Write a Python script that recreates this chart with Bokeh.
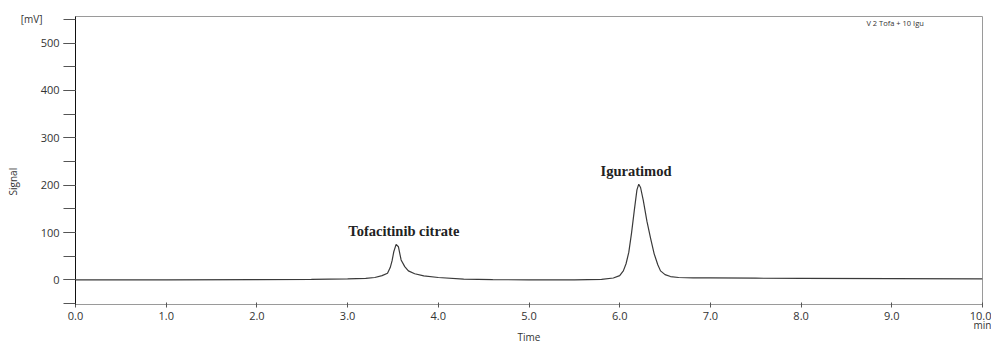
import math
from bokeh.plotting import figure
from bokeh.models import (Range1d, SingleIntervalTicker, FixedTicker, NumeralTickFormatter,
                          Label, LinearAxis, Title)
from bokeh.embed import file_html
from bokeh.resources import INLINE

# chromatogram: time (min) and signal (mV)
time_min = [0.0, 1.0, 2.0, 2.6, 3.0, 3.2, 3.3, 3.38, 3.44, 3.47, 3.49, 3.51, 3.535,
            3.56, 3.59, 3.63, 3.67, 3.74, 3.84, 4.0, 4.28, 4.6, 5.0, 5.5, 5.8, 5.93,
            6.0, 6.04, 6.07, 6.10, 6.13, 6.16, 6.19, 6.21, 6.23, 6.26, 6.30, 6.34,
            6.38, 6.42, 6.45, 6.50, 6.56, 6.65, 6.81, 7.0, 7.5, 8.0, 9.0, 10.0]
signal_mv = [0, 0, 0.5, 1, 2, 3, 5, 9, 14, 26, 40, 60, 75,
             70, 42, 28, 19, 13, 8.5, 5, 1.5, 0.5, 0, 0, 1, 4,
             9, 19, 34, 58, 98, 145, 190, 202, 195, 168, 124, 88,
             55, 32, 19, 11, 7, 5, 4, 4, 3.5, 3, 2.5, 2]

peak_names = ["Tofacitinib citrate", "Iguratimod"]
peak_label_x = [3.62, 6.18]
peak_label_y = [104, 229]

unit_tick = [550]
unit_label = {550: "[mV]"}
min_tick = [10]
min_label = {10: "min"}

FONT = "Open Sans"
TXT = "#333333"

p = figure(frame_width=907, frame_height=288, output_backend="svg", toolbar_location=None,
           x_range=Range1d(0, 10), y_range=Range1d(-52, 556),
           x_axis_location=None, y_axis_location=None,
           min_border_left=75, min_border_top=16, min_border_right=9, min_border_bottom=39)
p.grid.visible = False
p.outline_line_color = "#9a9a9a"
p.outline_line_width = 1

p.line(time_min, signal_mv, line_color="#3a3a3a", line_width=1.2)

# main x axis
xa = LinearAxis(ticker=SingleIntervalTicker(interval=1, num_minor_ticks=0),
                formatter=NumeralTickFormatter(format="0.0"))
xa.axis_line_color = "#9a9a9a"
xa.major_tick_line_color = "#555555"
xa.major_tick_in = 2
xa.major_tick_out = 3
xa.minor_tick_line_color = None
xa.major_label_standoff = 4
xa.major_label_text_font = FONT
xa.major_label_text_font_size = "11px"
xa.major_label_text_color = TXT
p.add_layout(xa, "below")

# second x axis carrying "min" and the "Time" title
xb = LinearAxis(ticker=FixedTicker(ticks=min_tick), major_label_overrides=min_label)
xb.axis_line_color = None
xb.major_tick_line_color = None
xb.minor_tick_line_color = None
xb.major_tick_out = 0
xb.major_tick_in = 0
xb.major_label_standoff = -5
xb.major_label_text_font = FONT
xb.major_label_text_font_size = "10px"
xb.major_label_text_color = TXT
xb.axis_label = "Time"
xb.axis_label_standoff = -5
xb.axis_label_text_font = FONT
xb.axis_label_text_font_size = "10px"
xb.axis_label_text_font_style = "normal"
xb.axis_label_text_color = TXT
p.add_layout(xb, "below")

# main y axis
ya = LinearAxis(ticker=SingleIntervalTicker(interval=100, num_minor_ticks=2))
ya.axis_line_color = "#111111"
ya.major_tick_line_color = "#555555"
ya.minor_tick_line_color = "#555555"
ya.major_tick_in = 0
ya.minor_tick_in = 0
ya.major_tick_out = 12
ya.minor_tick_out = 12
ya.major_label_standoff = 4
ya.major_label_text_font = FONT
ya.major_label_text_font_size = "11px"
ya.major_label_text_color = TXT
p.add_layout(ya, "left")

# second y axis carrying the unit "[mV]"
yb = LinearAxis(ticker=FixedTicker(ticks=unit_tick), major_label_overrides=unit_label)
yb.axis_line_color = None
yb.major_tick_line_color = None
yb.minor_tick_line_color = None
yb.major_tick_out = 0
yb.major_tick_in = 0
yb.major_label_standoff = -5
yb.major_label_text_font = FONT
yb.major_label_text_font_size = "10px"
yb.major_label_text_color = TXT
p.add_layout(yb, "left")

p.add_layout(Title(text="Signal", align="left", offset=109, standoff=-4,
                   text_font=FONT, text_font_size="10px", text_font_style="normal",
                   text_color=TXT), "left")

for name, lx, ly in zip(peak_names, peak_label_x, peak_label_y):
    p.add_layout(Label(x=lx, y=ly, text=name, text_font="Liberation Serif",
                       text_font_style="bold", text_font_size="14.5px",
                       text_align="center", text_baseline="middle", text_color="#222222"))

p.add_layout(Label(x=8.72, y=543, text="V 2 Tofa + 10 Igu", text_font=FONT,
                   text_font_size="7.5px", text_align="left", text_baseline="middle",
                   text_color=TXT))

open("out.html", "w").write(file_html(p, INLINE))
